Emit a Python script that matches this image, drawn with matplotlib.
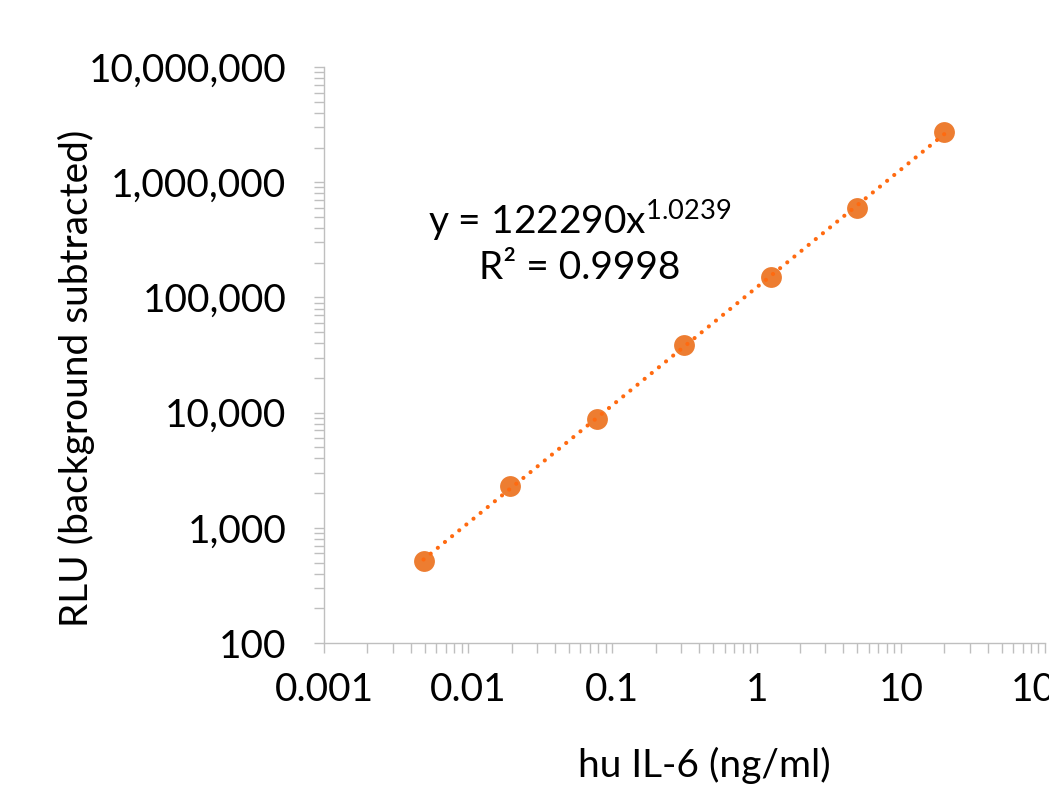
import numpy as np
import matplotlib
matplotlib.use('Agg')
import matplotlib.pyplot as plt
from matplotlib.ticker import FuncFormatter, LogLocator, NullFormatter

# ==== DATA ====
conc = [0.0049, 0.0195, 0.078, 0.3125, 1.25, 5.0, 20.0]        # hu IL-6 (ng/ml)
rlu = [515, 2300, 8800, 38600, 150000, 597000, 2730000]      # RLU, background subtracted
eq_text = r'y = 122290x$^{\mathrm{1.0239}}$'
r2_text = 'R² = 0.9998'

plt.rcParams['font.family'] = ['Lato', 'DejaVu Sans']
plt.rcParams['mathtext.fontset'] = 'custom'
plt.rcParams['mathtext.rm'] = 'Lato'
plt.rcParams['mathtext.it'] = 'Lato'

grey = '#bfbfbf'
fs = 28

fig = plt.figure(figsize=(10.49, 7.89), dpi=100)
ax = fig.add_axes([0.3089, 0.185, 0.9962 - 0.3089, 0.9151 - 0.185])

# power trendline, fitted in log space
p = np.polyfit(np.log10(conc), np.log10(rlu), 1)
xt = np.logspace(np.log10(conc[0]), np.log10(conc[-1]), 50)
yt = 10 ** np.polyval(p, np.log10(xt))

ax.plot(conc, rlu, 'o', color='#ed7d31', ms=15, mec='none', zorder=2)
ax.plot(xt, yt, color='#ff6a10', lw=3.0, linestyle=(0, (0.01, 2.2)),
        dash_capstyle='round', zorder=3)

ax.set_xscale('log')
ax.set_yscale('log')
ax.set_xlim(0.001, 100)
ax.set_ylim(100, 1e7)

for s in ['top', 'right']:
  ax.spines[s].set_visible(False)
for s in ['left', 'bottom']:
  ax.spines[s].set_color(grey)
  ax.spines[s].set_linewidth(1.0)

fmt = FuncFormatter(lambda v, pos: '{:,.0f}'.format(v))
xfmt = FuncFormatter(lambda v, pos: '{:g}'.format(v))
ax.yaxis.set_major_formatter(fmt)
ax.xaxis.set_major_formatter(xfmt)
ax.xaxis.set_minor_locator(LogLocator(base=10, subs=np.arange(2, 10)))
ax.yaxis.set_minor_locator(LogLocator(base=10, subs=np.arange(2, 10)))
ax.xaxis.set_minor_formatter(NullFormatter())
ax.yaxis.set_minor_formatter(NullFormatter())

ax.tick_params(which='both', direction='out', color=grey, width=1.0, length=7)
ax.tick_params(axis='y', which='major', labelsize=fs, pad=20)
ax.tick_params(axis='x', which='major', labelsize=fs, pad=14)

ax.set_xlabel('hu IL-6 (ng/ml)', fontsize=fs)
ax.xaxis.set_label_coords(0.528, -0.18)
ax.set_ylabel('RLU (background subtracted)', fontsize=fs)
ax.yaxis.set_label_coords(-0.318, 0.46)

fig.text(580 / 1049, 1 - 220 / 789, eq_text, fontsize=fs, ha='center', va='center')
fig.text(580 / 1049, 1 - 268 / 789, r2_text, fontsize=fs, ha='center', va='center')

fig.savefig('out.png', dpi=100)
